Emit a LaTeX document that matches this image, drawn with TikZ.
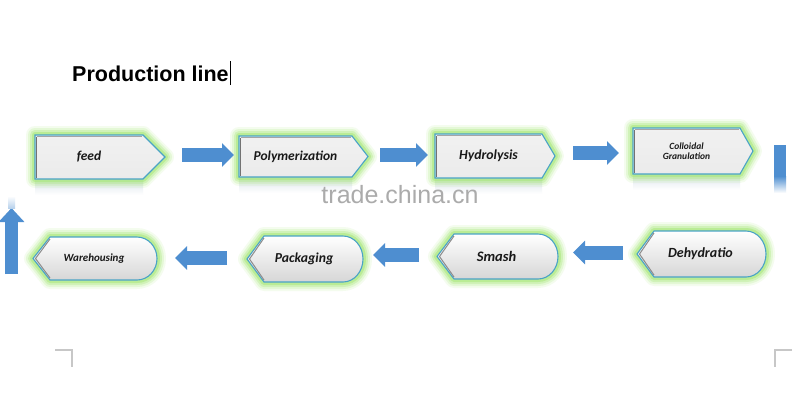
\documentclass[tikz,border=0pt]{standalone}
\usepackage{fontspec}
\setmainfont{Carlito}
\newfontfamily\arialfont{Liberation Sans}
\usetikzlibrary{arrows.meta,calc}
\definecolor{glowc}{HTML}{A8E87A}
\definecolor{edgec}{HTML}{4AA3C6}
\definecolor{arrowc}{HTML}{4E8ED0}
\definecolor{boxfill}{HTML}{EBEBEB}
\definecolor{reflc}{HTML}{DCE4EC}
\tikzset{
  glowline/.style={draw=glowc,line join=round},
  boxedge/.style={draw=edgec,line width=1.1pt,line join=miter},
  blockarrow/.style={draw=arrowc,line width=14pt,-{Triangle[width=23pt,length=12pt]},arrowc},
  boxtext/.style={text=black!90,align=center,inner sep=0pt},
}
% top box: name, x1, y1, xbody, xtip, y2, text, size
\newcommand\TopBox[8]{%
  \fill[reflc!70!white,opacity=.6] (#2,#6) rectangle (#4,#6+16);
  \shade[top color=reflc,bottom color=white] (#2,#6) rectangle (#4,#6+16);
  \foreach \w/\o in {18/0.12,14/0.2,10/0.32,6/0.55}{%
    \draw[glowline,line width=\w pt,opacity=\o] (#2,#3) -- (#4,#3) -- (#5,{(#3+#6)/2}) -- (#4,#6) -- (#2,#6) -- cycle;}
  \shade[top color=boxfill!70!white,bottom color=boxfill] (#2,#3) -- (#4,#3) -- (#5,{(#3+#6)/2}) -- (#4,#6) -- (#2,#6) -- cycle;
  \draw[boxedge] (#2,#3) -- (#4,#3) -- (#5,{(#3+#6)/2}) -- (#4,#6) -- (#2,#6) -- cycle;
  \draw[black!55,line width=1.6pt] (#2+1.6,#3+1.6) -- (#2+1.6,#6-1.2);
  \draw[black!35,line width=0.8pt] (#2+1.6,#3+1.6) -- (#4-1,#3+1.6);
  \node[boxtext,font=\fontsize{#8}{#8}\selectfont\bfseries\itshape] (#1) at ({(#2+#4)/2},{(#3+#6)/2}) {#7};
}
% bottom box: name, xtip, y1, xright, y2, text, size
\newcommand\BotBox[7]{%
  \foreach \w/\o in {18/0.12,14/0.2,10/0.32,6/0.55}{%
    \draw[glowline,line width=\w pt,opacity=\o] (#2,{(#3+#5)/2}) -- (#2+17,#3) -- (#4-20,#3) arc[start angle=-90,end angle=90,x radius=20,y radius={(#5-#3)/2}] -- (#2+17,#5) -- cycle;}
  \shade[top color=white,bottom color=black!16] (#2,{(#3+#5)/2}) -- (#2+17,#3) -- (#4-20,#3) arc[start angle=-90,end angle=90,x radius=20,y radius={(#5-#3)/2}] -- (#2+17,#5) -- cycle;
  \draw[boxedge] (#2,{(#3+#5)/2}) -- (#2+17,#3) -- (#4-20,#3) arc[start angle=-90,end angle=90,x radius=20,y radius={(#5-#3)/2}] -- (#2+17,#5) -- cycle;
  \draw[black!45,line width=1pt] (#2+17,#3+2) -- (#2+2.5,{(#3+#5)/2}) -- (#2+17,#5-2);
  \node[boxtext,font=\fontsize{#7}{#7}\selectfont\bfseries\itshape] (#1) at ({(#2+#4)/2-1},{(#3+#5)/2}) {#6};
}
\begin{document}
\begin{tikzpicture}[x=1pt,y=-1pt]
\useasboundingbox (0,0) rectangle (800,408);
\fill[white] (0,0) rectangle (800,408);

% title
\node[anchor=base west,inner sep=0pt,font=\arialfont\bfseries\fontsize{21.5}{22}\selectfont] (title) at (72,81) {Production line};
\draw[black,line width=0.8pt] (title.base east) ++(1.5,4) -- ++(0,-24);

% top row
\TopBox{feed}{35}{135}{143}{165}{179}{feed}{13.5}
\TopBox{poly}{239}{136}{352}{368}{177}{Polymerization}{13.5}
\TopBox{hydro}{435}{134}{542}{555}{178}{Hydrolysis}{13.8}
\TopBox{coll}{633}{128}{740}{753}{174}{\fontsize{9.5}{15}\selectfont Colloidal\\\fontsize{9.5}{15}\selectfont Granulation}{9.5}

% bottom row
\BotBox{ware}{33}{237}{157}{280}{Warehousing}{11}
\BotBox{pack}{247}{236}{363}{282}{Packaging}{13.7}
\BotBox{smash}{437}{234}{558}{279}{Smash}{14.5}
\BotBox{dehyd}{637}{231}{766}{277}{Dehydratio}{14}

% watermark
\node[font=\arialfont\fontsize{25}{26}\selectfont,text=black!33,inner sep=0pt] (wm) at (400,195) {trade.china.cn};

% arrow coordinates
\coordinate (t1s) at (182,155); \coordinate (t1e) at (234,155);
\coordinate (t2s) at (380,155); \coordinate (t2e) at (428,155);
\coordinate (t3s) at (573,153); \coordinate (t3e) at (619,153);
\coordinate (b1s) at (623,252.5); \coordinate (b1e) at (573,252.5);
\coordinate (b2s) at (419,255); \coordinate (b2e) at (373,255);
\coordinate (b3s) at (227,258); \coordinate (b3e) at (175,258);
\coordinate (us) at (11.5,274); \coordinate (ue) at (11.5,208);

\draw[blockarrow] (t1s) -- (t1e);
\draw[blockarrow] (t2s) -- (t2e);
\draw[blockarrow] (t3s) -- (t3e);
\draw[blockarrow] (b1s) -- (b1e);
\draw[blockarrow] (b2s) -- (b2e);
\draw[blockarrow] (b3s) -- (b3e);
\draw[blockarrow,line width=13pt,-{Triangle[width=25pt,length=14pt]}] (us) -- (ue);
\shade[top color=white,bottom color=arrowc!40!white] (8,196) rectangle (15,208);

% right bar
\fill[arrowc] (774,145) rectangle (786,176);
\shade[top color=arrowc,bottom color=white] (774,176) rectangle (786,193);

% corner marks
\draw[black!22,line width=1.2pt] (55,350) -- (72,350) -- (72,367);
\draw[black!22,line width=1.2pt] (792,350) -- (775,350) -- (775,367);
\end{tikzpicture}
\end{document}
